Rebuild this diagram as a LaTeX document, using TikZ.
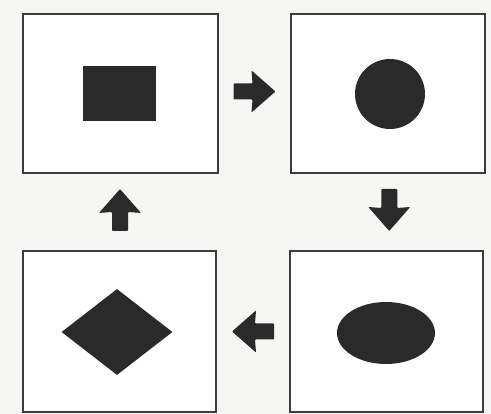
\documentclass[tikz,border=0pt]{standalone}
\usetikzlibrary{shapes.geometric,calc}
\definecolor{ink}{HTML}{2A2A2A}
\definecolor{edge}{HTML}{3C3C3C}
\definecolor{paper}{HTML}{F6F6F4}
\tikzset{
  frame/.style={draw=edge, line width=1.8pt, fill=white, inner sep=0pt},
  solidshape/.style={fill=ink, draw=none, inner sep=0pt},
  pics/blockarrow/.style={code={
    \fill[ink, rounded corners=0.8pt] (-21,-8) -- (-2,-8) -- (-3,-21) -- (21,0) -- (-3,21) -- (-2,8) -- (-21,8) -- cycle;
  }}
}
\begin{document}
\begin{tikzpicture}[x=1pt,y=-1pt]
  \fill[paper] (0,0) rectangle (491,414);
  \useasboundingbox (0,0) rectangle (491,414);
  % boxes
  \node[frame, minimum width=195pt, minimum height=159pt] (tl) at (120.5,93.5) {};
  \node[frame, minimum width=194pt, minimum height=159pt] (tr) at (388,93.5) {};
  \node[frame, minimum width=193pt, minimum height=161pt] (bl) at (119.5,331.5) {};
  \node[frame, minimum width=193pt, minimum height=161pt] (br) at (386.5,331.5) {};
  % shapes
  \node[solidshape, rectangle, minimum width=73pt, minimum height=55pt] (sq) at (119.5,93.5) {};
  \node[solidshape, circle, minimum size=70pt] (ci) at (390,94) {};
  \node[solidshape, ellipse, minimum width=98pt, minimum height=62pt] (el) at (386,333) {};
  \node[solidshape, diamond, minimum width=111pt, minimum height=86pt] (di) at (117,332) {};
  % arrows
  \coordinate (a1) at ($(tl.east)!0.5!(tr.west)$);
  \coordinate (a2) at ($(tr.south)!0.5!(br.north)$);
  \coordinate (a3) at ($(br.west)!0.5!(bl.east)$);
  \coordinate (a4) at ($(bl.north)!0.5!(tl.south)$);
  \pic at ($(a1)+(0,-2)$) {blockarrow};
  \pic[rotate=-90] at ($(a2)+(2,-2)$) {blockarrow};
  \pic[rotate=180] at (a3) {blockarrow};
  \pic[rotate=90] at ($(a4)+(0,-2)$) {blockarrow};
\end{tikzpicture}
\end{document}
